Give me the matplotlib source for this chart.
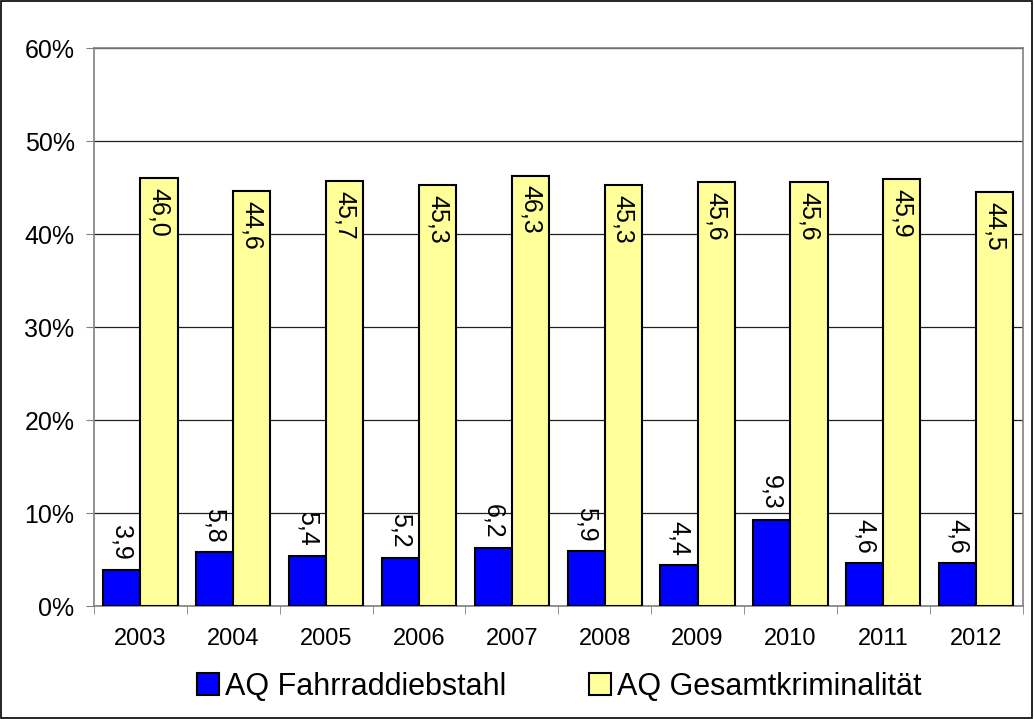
import numpy as np
import matplotlib.pyplot as plt
from matplotlib.patches import Rectangle
from matplotlib.ticker import PercentFormatter

years = ['2003', '2004', '2005', '2006', '2007', '2008', '2009', '2010', '2011', '2012']
fahrrad = [3.9, 5.8, 5.4, 5.2, 6.2, 5.9, 4.4, 9.3, 4.6, 4.6]
gesamt = [46.0, 44.6, 45.7, 45.3, 46.3, 45.3, 45.6, 45.6, 45.9, 44.5]

plt.rcParams['font.family'] = ['Liberation Sans', 'DejaVu Sans']

fig = plt.figure(figsize=(10.34, 7.19), dpi=100)
ax = fig.add_axes([0.0909, 0.157, 0.898, 0.776])

x = np.arange(len(years))
w = 0.4
b1 = ax.bar(x - w / 2, fahrrad, w, color='#0000ff', edgecolor='black', linewidth=1.5,
            label='AQ Fahrraddiebstahl', zorder=3)
b2 = ax.bar(x + w / 2, gesamt, w, color='#ffff99', edgecolor='black', linewidth=1.5,
            label='AQ Gesamtkriminalität', zorder=3)

# data labels, rotated like the original
for xi, v in zip(x, fahrrad):
    ax.annotate(f'{v:.1f}'.replace('.', ','), (xi - w / 2, v), xytext=(0, 7),
                textcoords='offset points', ha='center', va='bottom',
                rotation=-90, fontsize=18, zorder=4)
for xi, v in zip(x, gesamt):
    ax.annotate(f'{v:.1f}'.replace('.', ','), (xi + w / 2, v), xytext=(0, -7),
                textcoords='offset points', ha='center', va='top',
                rotation=-90, fontsize=18, zorder=4)

ax.set_xlim(-0.5, len(years) - 0.5)
ax.set_ylim(0, 60)
ax.set_yticks(np.arange(0, 61, 10))
ax.yaxis.set_major_formatter(PercentFormatter(decimals=0))
ax.set_xticks(x)
ax.set_xticklabels(years)
ax.set_xticks(np.arange(-0.5, len(years), 1), minor=True)
ax.tick_params(axis='x', which='major', length=0, labelsize=17, pad=16)
ax.tick_params(axis='x', which='minor', length=6, direction='out', color='#808080')
ax.tick_params(axis='y', length=6, direction='out', labelsize=18, pad=8, color='#808080')

ax.grid(axis='y', color='#202020', linewidth=0.9, zorder=0)
for s in ax.spines.values():
    s.set_color('#808080')
    s.set_linewidth(1.2)

fig.legend(handles=[b1, b2], loc='center', bbox_to_anchor=(0.541, 0.0445), ncol=2,
           frameon=False, fontsize=22, handlelength=0.72, handleheight=0.72,
           handletextpad=0.2, columnspacing=2.7, borderpad=0)

fig.patches.append(Rectangle((0.0005, 0.0007), 0.998, 0.998, transform=fig.transFigure,
                             fill=False, edgecolor='black', linewidth=1.2))

fig.savefig('out.png', dpi=100)
